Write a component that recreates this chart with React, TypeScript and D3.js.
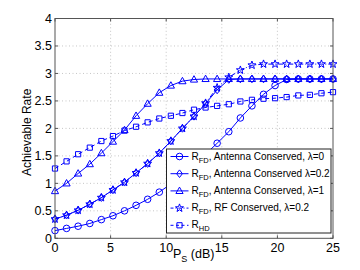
import React from 'react';
import * as d3 from 'd3';

// P_S samples (dB), 25 points over 0..25
const psDb = [0, 1.04, 2.08, 3.13, 4.17, 5.21, 6.25, 7.29, 8.33, 9.38, 10.42, 11.46, 12.5, 13.54, 14.58, 15.63, 16.67, 17.71, 18.75, 19.79, 20.83, 21.88, 22.92, 23.96, 25];

const fdAntLam0 = [0.14, 0.18, 0.22, 0.27, 0.34, 0.41, 0.5, 0.6, 0.71, 0.84, 0.99, 1.16, 1.34, 1.53, 1.73, 1.94, 2.19, 2.41, 2.62, 2.78, 2.89, 2.9, 2.9, 2.9, 2.9];
const fdAntLam02 = [0.35, 0.42, 0.51, 0.62, 0.74, 0.88, 1.02, 1.19, 1.36, 1.55, 1.77, 2.0, 2.22, 2.45, 2.7, 2.89, 2.9, 2.9, 2.9, 2.9, 2.9, 2.9, 2.9, 2.9, 2.9];
const fdAntLam1 = [0.86, 1.0, 1.18, 1.35, 1.55, 1.76, 1.97, 2.23, 2.45, 2.65, 2.78, 2.86, 2.89, 2.9, 2.9, 2.9, 2.9, 2.9, 2.9, 2.9, 2.9, 2.9, 2.9, 2.9, 2.9];
const fdRfLam02 = [0.35, 0.42, 0.51, 0.62, 0.74, 0.88, 1.02, 1.19, 1.36, 1.55, 1.77, 2.0, 2.22, 2.46, 2.74, 2.93, 3.06, 3.15, 3.17, 3.17, 3.17, 3.17, 3.17, 3.17, 3.17];
const hdRate = [1.27, 1.4, 1.53, 1.65, 1.77, 1.86, 1.96, 2.03, 2.11, 2.18, 2.23, 2.28, 2.34, 2.38, 2.41, 2.44, 2.49, 2.52, 2.54, 2.55, 2.57, 2.6, 2.61, 2.64, 2.66];

const xTicks = [0, 5, 10, 15, 20, 25];
const yTicks = [0, 0.5, 1, 1.5, 2, 2.5, 3, 3.5, 4];

type MarkerKind = 'circle' | 'diamond' | 'triangle' | 'star' | 'square';

const series: { values: number[]; marker: MarkerKind; dash: string; sub: string; text: string }[] = [
  { values: fdAntLam0, marker: 'circle', dash: '', sub: 'FD', text: ', Antenna Conserved, λ=0' },
  { values: fdAntLam02, marker: 'diamond', dash: '', sub: 'FD', text: ', Antenna Conserved λ=0.2' },
  { values: fdAntLam1, marker: 'triangle', dash: '', sub: 'FD', text: ', Antenna Conserved, λ=1' },
  { values: fdRfLam02, marker: 'star', dash: '5,2,1,2', sub: 'FD', text: ', RF Conserved, λ=0.2' },
  { values: hdRate, marker: 'square', dash: '4,3', sub: 'HD', text: '' },
];

const BLUE = '#0000ff';
const FONT = 'Liberation Sans, Arial, sans-serif';

function markerPath(kind: MarkerKind): string {
  if (kind === 'circle') return 'M3.3,0A3.3,3.3 0 1,1 -3.3,0A3.3,3.3 0 1,1 3.3,0Z';
  if (kind === 'diamond') return 'M0,-3.8L2.9,0L0,3.8L-2.9,0Z';
  if (kind === 'triangle') return 'M0,-3.8L3.6,2.6L-3.6,2.6Z';
  if (kind === 'square') return 'M-2.6,-2.6L2.6,-2.6L2.6,2.6L-2.6,2.6Z';
  const pts: string[] = [];
  for (let i = 0; i < 10; i++) {
    const r = i % 2 === 0 ? 4.2 : 1.7;
    const a = -Math.PI / 2 + (i * Math.PI) / 5;
    pts.push(`${(r * Math.cos(a)).toFixed(2)},${(r * Math.sin(a)).toFixed(2)}`);
  }
  return 'M' + pts.join('L') + 'Z';
}

export default function App() {
  const width = 360;
  const height = 270;
  const margin = { top: 18.5, right: 27, bottom: 31.7, left: 55 };
  const x0 = margin.left;
  const x1 = width - margin.right;
  const y0 = height - margin.bottom;
  const y1 = margin.top;

  const x = d3.scaleLinear().domain([0, 25]).range([x0, x1]);
  const y = d3.scaleLinear().domain([0, 4]).range([y0, y1]);

  const line = d3.line<number>()
    .x((_, i) => x(psDb[i]))
    .y(d => y(d));

  const legend = { x: 166.5, y: 149, w: 164.5, h: 84, row0: 156.5, rowStep: 17.2 };

  return (
    <svg width={width} height={height} style={{ position: 'absolute', left: 0, top: 0, background: '#fff' }}
      fontFamily={FONT}>
      <rect x={0} y={0} width={width} height={height} fill="#fff" />

      {/* grid */}
      <g stroke="#b8b8b8" strokeWidth={0.8} strokeDasharray="1,2.5">
        {xTicks.slice(1, -1).map(t => (
          <line key={'gx' + t} x1={x(t)} x2={x(t)} y1={y0} y2={y1} />
        ))}
        {yTicks.slice(1, -1).map(t => (
          <line key={'gy' + t} x1={x0} x2={x1} y1={y(t)} y2={y(t)} />
        ))}
      </g>

      {/* series */}
      {series.map((s, si) => (
        <g key={'s' + si}>
          <path d={line(s.values) || ''} fill="none" stroke={BLUE} strokeWidth={1} strokeDasharray={s.dash || undefined} />
          {s.values.map((v, i) => (
            <path key={i} d={markerPath(s.marker)} transform={`translate(${x(psDb[i])},${y(v)})`}
              fill="none" stroke={BLUE} strokeWidth={1} />
          ))}
        </g>
      ))}

      {/* axes box and ticks */}
      <rect x={x0} y={y1} width={x1 - x0} height={y0 - y1} fill="none" stroke="#555" strokeWidth={1} />
      <g stroke="#555" strokeWidth={1}>
        {xTicks.map(t => (
          <g key={'tx' + t}>
            <line x1={x(t)} x2={x(t)} y1={y0} y2={y0 - 3} />
            <line x1={x(t)} x2={x(t)} y1={y1} y2={y1 + 3} />
          </g>
        ))}
        {yTicks.map(t => (
          <g key={'ty' + t}>
            <line x1={x0} x2={x0 + 3} y1={y(t)} y2={y(t)} />
            <line x1={x1} x2={x1 - 3} y1={y(t)} y2={y(t)} />
          </g>
        ))}
      </g>
      <g fontSize={12.5} fill="#000">
        {xTicks.map(t => (
          <text key={'lx' + t} x={x(t)} y={y0 + 14} textAnchor="middle">{t}</text>
        ))}
        {yTicks.map(t => (
          <text key={'ly' + t} x={x0 - 3} y={y(t) + 4.5} textAnchor="end">{t}</text>
        ))}
      </g>

      {/* axis labels */}
      <text x={(x0 + x1) / 2 - 21} y={y0 + 20} fontSize={12.5}>
        P<tspan fontSize={9} dy={4}>S</tspan><tspan dy={-4}> (dB)</tspan>
      </text>
      <text transform={`translate(${31},${(y0 + y1) / 2 + 4}) rotate(-90)`} textAnchor="middle" fontSize={12}>
        Achievable Rate
      </text>

      {/* legend */}
      <rect x={legend.x} y={legend.y} width={legend.w} height={legend.h} fill="#fff" stroke="#222" strokeWidth={1} />
      {series.map((s, i) => {
        const ry = legend.row0 + i * legend.rowStep;
        return (
          <g key={'lg' + i}>
            <line x1={legend.x + 4} x2={legend.x + 22} y1={ry} y2={ry} stroke={BLUE} strokeWidth={1}
              strokeDasharray={s.dash ? (s.marker === 'star' ? '3,2,1,2' : '3,2.5') : undefined} />
            <path d={markerPath(s.marker)} transform={`translate(${legend.x + 13},${ry})`} fill="none" stroke={BLUE} strokeWidth={1} />
            <text x={legend.x + 25} y={ry + 3} fontSize={10} fill="#000">
              R<tspan fontSize={7.5} dy={3}>{s.sub}</tspan><tspan dy={-3}>{s.text}</tspan>
            </text>
          </g>
        );
      })}
    </svg>
  );
}
